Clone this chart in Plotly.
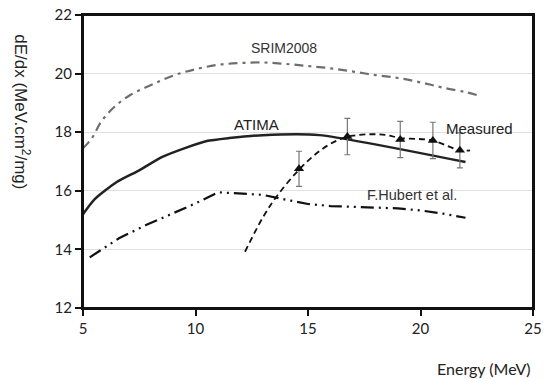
import plotly.graph_objects as go

# SRIM2008 (gray dash-dot)
srim_e = [5.0, 5.4, 5.8, 6.4, 7.1, 8.0, 9.0, 10.0, 11.0, 12.0, 13.0, 14.0, 15.0, 16.0, 17.0, 18.0, 19.0, 20.0, 21.0, 22.0, 22.5]
srim_v = [17.45, 17.8, 18.35, 18.87, 19.27, 19.6, 19.93, 20.15, 20.3, 20.36, 20.38, 20.33, 20.26, 20.18, 20.07, 19.95, 19.85, 19.7, 19.52, 19.37, 19.27]

# ATIMA (solid)
atima_e = [5.0, 5.5, 6.5, 7.5, 8.5, 9.5, 10.5, 11.5, 13.0, 15.5, 22.0]
atima_v = [15.2, 15.7, 16.3, 16.7, 17.15, 17.45, 17.7, 17.8, 17.9, 17.9, 16.98]

# F.Hubert et al. (long dash-dot-dot)
hub_e = [5.3, 6.6, 7.8, 9.0, 10.0, 11.0, 12.0, 13.0, 14.0, 15.0, 16.0, 17.0, 18.0, 19.0, 20.0, 21.0, 22.0]
hub_v = [13.73, 14.38, 14.83, 15.23, 15.57, 15.95, 15.9, 15.86, 15.7, 15.55, 15.48, 15.46, 15.43, 15.4, 15.33, 15.22, 15.08]

# Measured fit curve (dashed)
meas_curve_e = [12.2, 13.0, 13.6, 14.6, 15.5, 16.3, 17.0, 17.8, 18.5, 19.1, 20.5, 21.75, 22.2]
meas_curve_v = [13.92, 15.1, 15.8, 16.72, 17.35, 17.72, 17.88, 17.93, 17.9, 17.8, 17.72, 17.38, 17.38]

# Measured points
meas_e = [14.6, 16.75, 19.1, 20.55, 21.75]
meas_v = [16.75, 17.85, 17.75, 17.72, 17.38]
meas_err = [0.6, 0.62, 0.62, 0.62, 0.6]

fig = go.Figure()
fig.add_trace(go.Scatter(x=srim_e, y=srim_v, mode="lines", line=dict(color="#6e6e6e", width=2.2, dash="9px,5px,3px,5px", shape="spline"), showlegend=False))
fig.add_trace(go.Scatter(x=atima_e, y=atima_v, mode="lines", line=dict(color="#222222", width=2.5, shape="spline", smoothing=0.6), showlegend=False))
fig.add_trace(go.Scatter(x=hub_e, y=hub_v, mode="lines", line=dict(color="#111111", width=2.2, dash="13px,5px,2px,5px,2px,5px"), showlegend=False))
fig.add_trace(go.Scatter(x=meas_curve_e, y=meas_curve_v, mode="lines", line=dict(color="#111111", width=1.8, dash="6px,4px", shape="spline"), showlegend=False))
fig.add_trace(go.Scatter(x=meas_e, y=meas_v, mode="markers", marker=dict(symbol="triangle-up", size=9, color="#111111"),
                         error_y=dict(type="data", array=meas_err, color="#777777", thickness=1.2, width=3), showlegend=False))

ann_font = dict(family="Liberation Sans, Arial", size=14, color="#333333")
fig.add_annotation(x=13.93, y=20.87, text="SRIM2008", showarrow=False, font=ann_font)
fig.add_annotation(x=12.69, y=18.25, text="ATIMA", showarrow=False, font=dict(family="Liberation Sans, Arial", size=15, color="#222222"))
fig.add_annotation(x=22.6, y=18.11, text="Measured", showarrow=False, font=dict(family="Liberation Sans, Arial", size=15, color="#222222"))
fig.add_annotation(x=19.6, y=15.86, text="F.Hubert et al.", showarrow=False,
                   font=dict(family="Liberation Sans, Arial", size=14.5, color="#333333"))

title_font = dict(family="Liberation Sans, Arial", size=17, color="#222222")
fig.add_annotation(xref="paper", yref="paper", x=-0.136, y=0.669, xanchor="center", yanchor="middle",
                   text="dE/dx (MeV.cm<sup>2</sup>/mg)", textangle=90,
                   showarrow=False, font=title_font)
fig.add_annotation(xref="paper", yref="paper", x=1.0, y=-0.205, xanchor="right", yanchor="middle", text="Energy (MeV)",
                   showarrow=False, font=dict(family="Lato, Open Sans, sans-serif", size=16, color="#222222"))

# plot frame
fig.add_shape(type="rect", xref="paper", yref="paper", x0=0, y0=0, x1=1, y1=1,
              line=dict(color="#111111", width=2), layer="above")

tick_font = dict(family="Lato, Open Sans, sans-serif", size=15, color="#222222")
fig.update_xaxes(range=[5, 25], tickvals=[5, 10, 15, 20, 25], showgrid=False, zeroline=False,
                 showline=True, linecolor="#111111", linewidth=2, mirror=True, automargin=False,
                 ticklabeloverflow="allow",
                 ticks="outside", ticklen=6, tickwidth=2, tickcolor="#111111", tickfont=tick_font)
fig.update_yaxes(range=[12, 22], tickvals=[12, 14, 16, 18, 20, 22], showgrid=True, gridcolor="#e0e0e0", gridwidth=1,
                 zeroline=False, showline=True, linecolor="#111111", linewidth=2, mirror=True, automargin=False,
                 ticklabeloverflow="allow",
                 ticks="outside", ticklen=6, tickwidth=2, tickcolor="#111111", tickfont=tick_font)
fig.update_layout(width=541, height=371, margin=dict(l=75, r=16, t=7, b=71),
                  plot_bgcolor="white", paper_bgcolor="white")
fig.write_html("out.html")
